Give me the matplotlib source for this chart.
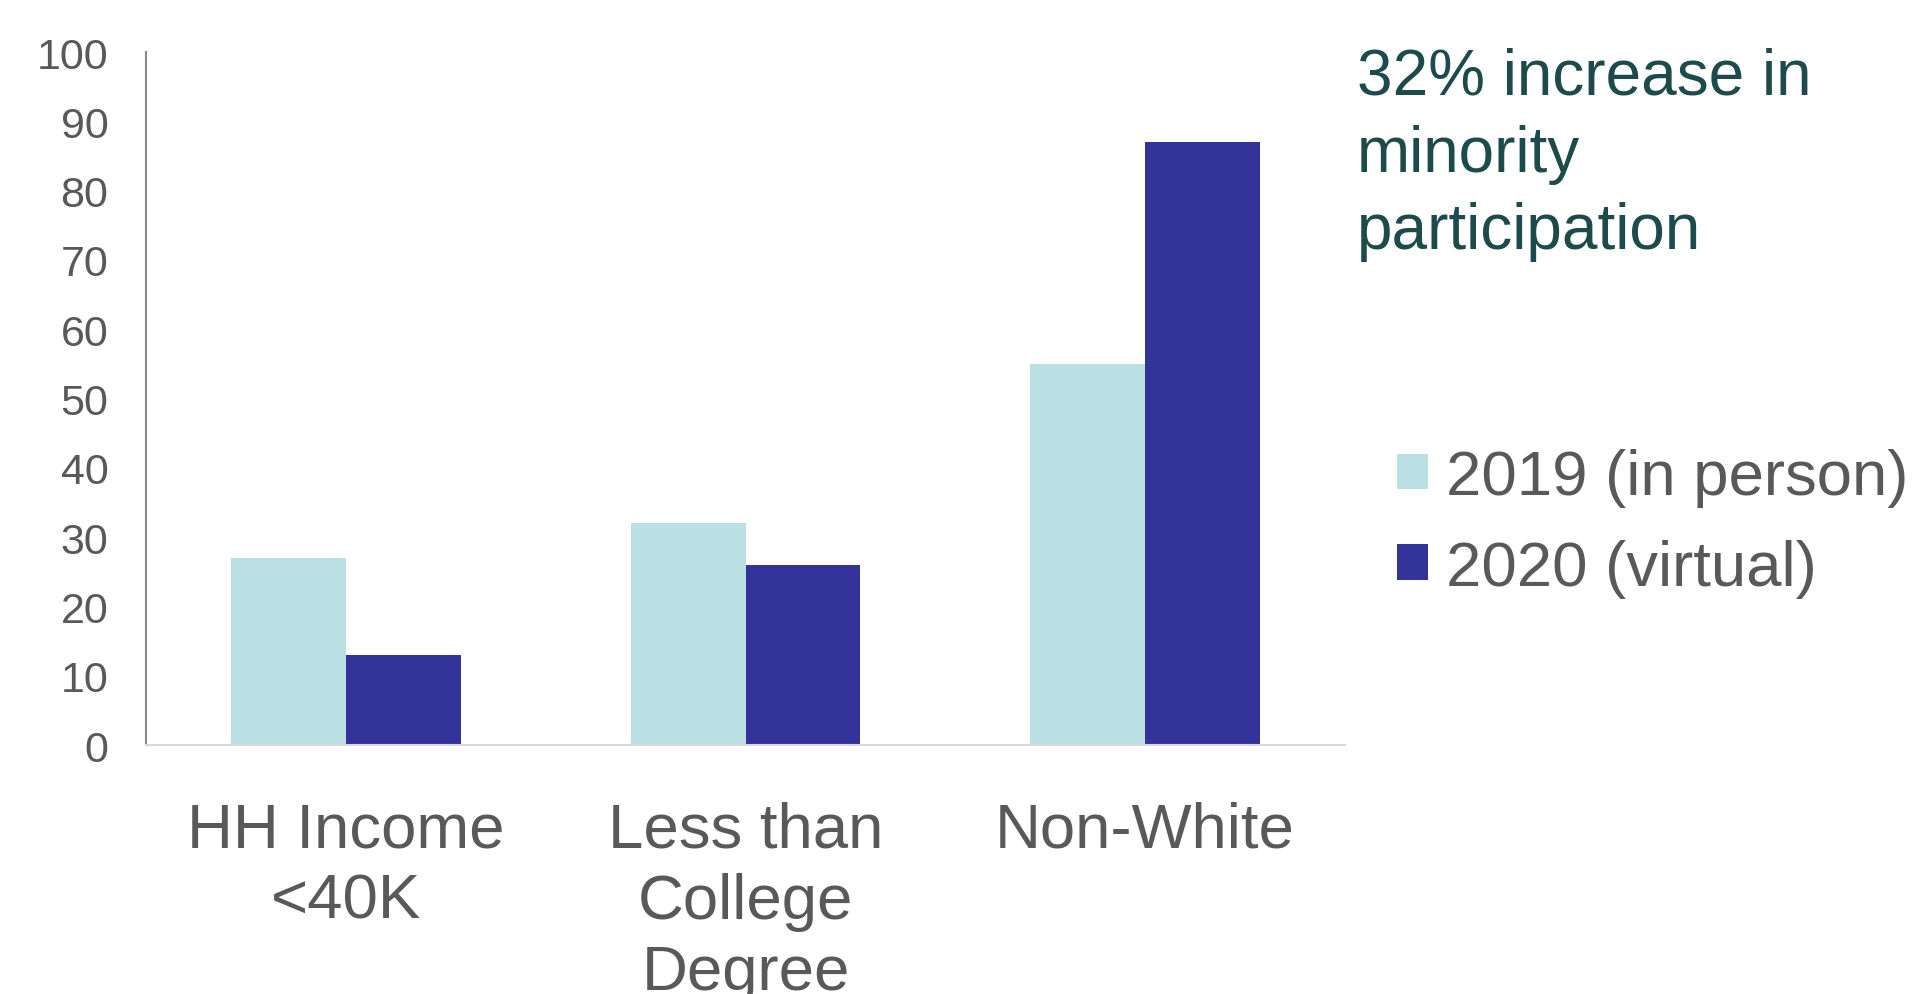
import numpy as np
import matplotlib.pyplot as plt

plt.rcParams['font.family'] = ['Liberation Sans', 'DejaVu Sans']

categories = ['HH Income\n<40K', 'Less than\nCollege\nDegree', 'Non-White']
series_names = ['2019 (in person)', '2020 (virtual)']
values_2019 = [27, 32, 55]
values_2020 = [13, 26, 87]
yticks = [0, 10, 20, 30, 40, 50, 60, 70, 80, 90, 100]

color_2019 = '#BBE0E3'
color_2020 = '#333399'
text_grey = '#595959'

fig = plt.figure(figsize=(19.21, 9.95), dpi=100)
ax = fig.add_axes([146 / 1921, 1 - 746 / 995, (1345 - 146) / 1921, (746 - 53) / 995])

x = np.arange(len(categories))
width = 0.2875
ax.bar(x - width / 2, values_2019, width, color=color_2019, label=series_names[0])
ax.bar(x + width / 2, values_2020, width, color=color_2020, label=series_names[1])

ax.set_xlim(-0.5, len(categories) - 0.5)
ax.set_ylim(0, 100)
ax.set_yticks(yticks)
ax.set_xticks(x)
ax.set_xticklabels(categories, fontsize=45.7, color=text_grey, linespacing=1.27)
ax.tick_params(axis='x', length=0, pad=40)
ax.tick_params(axis='y', length=0, pad=27, labelsize=31, labelcolor=text_grey)

for s in ['top', 'right']:
    ax.spines[s].set_visible(False)
ax.spines['left'].set_color('#898989')
ax.spines['left'].set_linewidth(1.5)
ax.spines['bottom'].set_color('#D9D9D9')
ax.spines['bottom'].set_linewidth(1.5)

# annotation at top right
fig.text(1357 / 1921, 1 - 48 / 995, '32% increase in\nminority\nparticipation',
         fontsize=46, color='#1D4A4A', ha='left', va='top', linespacing=1.36)

ax.legend(loc='center left', bbox_to_anchor=(1397 / 1921, 1 - 524 / 995),
          bbox_transform=fig.transFigure, frameon=False, fontsize=45.7,
          handlelength=0.49, handleheight=0.49, handletextpad=0.28,
          labelspacing=0.5, borderpad=0, borderaxespad=0, labelcolor=text_grey)

fig.savefig('out.png', dpi=100)
